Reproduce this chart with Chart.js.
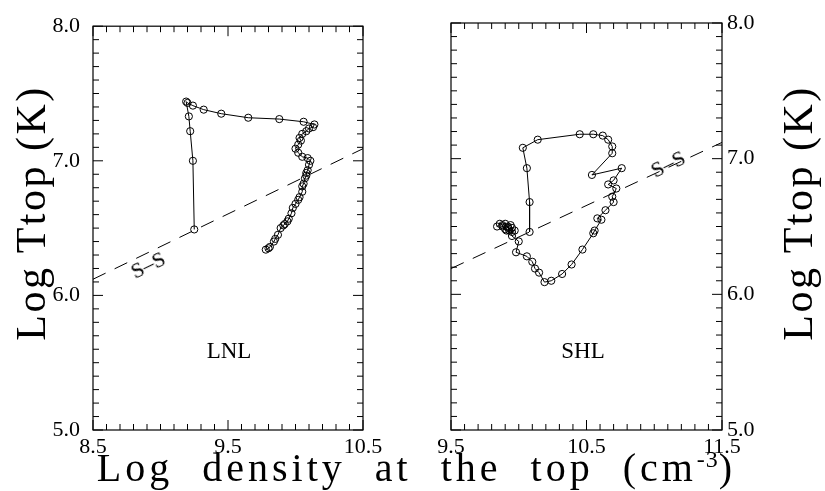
<!DOCTYPE html>
<html>
<head>
<meta charset="utf-8">
<script src="https://cdn.jsdelivr.net/npm/chart.js@4.4.1/dist/chart.umd.min.js"></script>
<style>
  html, body { margin: 0; padding: 0; background: #fff; }
  #wrap { position: relative; width: 825px; height: 491px; overflow: hidden; background: #fff; }
  #wrap canvas { position: absolute; left: 0; top: 0; }
  .txt { position: absolute; font-family: "Liberation Serif", "Times New Roman", serif; color: #000; white-space: nowrap; line-height: 1; }
  #xtitle { left: 0; width: 825px; top: 447px; text-align: center; font-size: 40px; letter-spacing: 4px; word-spacing: 15px; padding-left: 8px; box-sizing: border-box; }
  #xtitle sup { font-size: 24px; letter-spacing: 1px; vertical-align: 14px; }
  .ytitle { font-size: 42px; letter-spacing: 2.5px; width: 300px; text-align: center; transform: translate(-50%, -50%) rotate(-90deg); top: 213px; }
  .panel { font-size: 23px; transform: translate(-50%, -50%); top: 350px; }
  .ss { font-size: 22px; transform: translate(-50%, -50%) rotate(-26deg); }
</style>
</head>
<body>
<div id="wrap">
  <canvas id="lnl" width="825" height="491"></canvas>
  <canvas id="shl" width="825" height="491"></canvas>
  <div class="txt" id="xtitle">Log density at the top (cm<sup>-3</sup>)</div>
  <div class="txt ytitle" style="left:31px">Log Ttop (K)</div>
  <div class="txt ytitle" style="left:798px">Log Ttop (K)</div>
  <div class="txt panel" style="left:229px">LNL</div>
  <div class="txt panel" style="left:583px">SHL</div>
  <div class="txt ss" style="left:148px; top:265px">S–S</div>
  <div class="txt ss" style="left:668px; top:164px">S–S</div>
</div>
<script>
// ---- data ----
// LNL track (log density, log Ttop)
var lnlDensity = [9.78, 9.80, 9.81, 9.84, 9.85, 9.87, 9.89, 9.91, 9.92, 9.94, 9.95, 9.97, 9.98, 10.00,
                  10.02, 10.03, 10.05, 10.05, 10.06, 10.07, 10.08, 10.08, 10.09, 10.10, 10.11, 10.09,
                  10.05, 10.02, 10.00, 10.02, 10.04, 10.03, 10.05, 10.08, 10.10, 10.13, 10.14, 10.06,
                  9.88, 9.65, 9.45, 9.32, 9.24, 9.20, 9.19, 9.21, 9.22, 9.24, 9.25];
var lnlTemp    = [6.34, 6.35, 6.36, 6.40, 6.42, 6.45, 6.50, 6.52, 6.53, 6.55, 6.57, 6.61, 6.65, 6.68,
                  6.71, 6.73, 6.77, 6.81, 6.83, 6.87, 6.89, 6.91, 6.93, 6.97, 7.00, 7.02,
                  7.03, 7.06, 7.09, 7.12, 7.15, 7.17, 7.20, 7.22, 7.24, 7.25, 7.27, 7.29,
                  7.31, 7.32, 7.35, 7.38, 7.41, 7.43, 7.44, 7.33, 7.22, 7.00, 6.49];

// SHL track
var shlDensity = [9.84, 9.86, 9.88, 9.90, 9.92, 9.94, 9.95, 9.91, 9.88, 9.90, 9.93, 9.97, 9.95, 9.92,
                  9.95, 10.00, 9.98, 10.06, 10.10, 10.12, 10.15, 10.19, 10.24, 10.32, 10.39, 10.47,
                  10.55, 10.56, 10.61, 10.58, 10.64, 10.70, 10.69, 10.72, 10.66, 10.70, 10.76, 10.54,
                  10.69, 10.69, 10.66, 10.62, 10.55, 10.45, 10.14, 10.03, 10.06, 10.08, 10.08];
var shlTemp    = [6.50, 6.52, 6.51, 6.52, 6.50, 6.51, 6.49, 6.47, 6.50, 6.48, 6.47, 6.47, 6.46, 6.49,
                  6.43, 6.39, 6.31, 6.28, 6.24, 6.19, 6.16, 6.09, 6.10, 6.15, 6.22, 6.33,
                  6.45, 6.47, 6.55, 6.56, 6.62, 6.68, 6.72, 6.78, 6.81, 6.84, 6.93, 6.88,
                  7.04, 7.09, 7.14, 7.17, 7.18, 7.18, 7.14, 7.08, 6.93, 6.68, 6.46];

// S-S relation (dashed) in each panel
var ssLeftX  = [8.5, 10.5];
var ssLeftY  = [6.12, 7.09];
var ssRightX = [9.5, 11.5];
var ssRightY = [6.19, 7.12];

// axis ranges and labelled ticks
var xRangeLeft  = [8.5, 10.5];
var xRangeRight = [9.5, 11.5];
var yRange      = [5.0, 8.0];
var xTicksLeft  = [8.5, 9.5, 10.5];
var xTicksRight = [9.5, 10.5, 11.5];
var yTicks      = [5.0, 6.0, 7.0, 8.0];

var FONT = "'Liberation Serif', 'Times New Roman', serif";

function pts(xs, ys) {
    var out = [];
    for (var i = 0; i < xs.length; i++) out.push({ x: xs[i], y: ys[i] });
    return out;
}

// frame + inward tick marks on all four sides
var frameTicks = {
    id: 'frameTicks',
    afterDatasetsDraw: function(chart) {
        var a = chart.chartArea, ctx = chart.ctx;
        var xs = chart.scales.x, ys = chart.scales.y;
        ctx.save();
        ctx.strokeStyle = '#000';
        ctx.lineWidth = 1.2;
        ctx.strokeRect(a.left, a.top, a.right - a.left, a.bottom - a.top);
        ctx.lineWidth = 1;
        ctx.beginPath();
        var i, v, p, len;
        for (i = 0; i <= 20; i++) {
            v = xs.min + i * 0.1;
            p = xs.getPixelForValue(v);
            len = (i % 10 === 0) ? 10 : 6;
            ctx.moveTo(p, a.bottom); ctx.lineTo(p, a.bottom - len);
            ctx.moveTo(p, a.top); ctx.lineTo(p, a.top + len);
        }
        for (i = 0; i <= 30; i++) {
            v = ys.min + i * 0.1;
            p = ys.getPixelForValue(v);
            len = (i % 10 === 0) ? 10 : 6;
            ctx.moveTo(a.left, p); ctx.lineTo(a.left + len, p);
            ctx.moveTo(a.right, p); ctx.lineTo(a.right - len, p);
        }
        ctx.stroke();
        ctx.restore();
    }
};

function makePanel(canvasId, track, ss, xRange, xTicks, yPos, pad) {
    return new Chart(document.getElementById(canvasId), {
        type: 'scatter',
        data: {
            datasets: [{
                data: track,
                showLine: true,
                borderColor: '#000',
                borderWidth: 1,
                pointRadius: 3.6,
                pointBorderWidth: 1,
                pointBorderColor: '#000',
                pointBackgroundColor: 'rgba(0,0,0,0)'
            }, {
                data: ss,
                showLine: true,
                borderColor: '#000',
                borderWidth: 1,
                borderDash: [14, 10],
                pointRadius: 0
            }]
        },
        options: {
            responsive: false,
            animation: false,
            devicePixelRatio: 1,
            events: [],
            layout: { padding: pad },
            plugins: { legend: { display: false }, tooltip: { enabled: false } },
            scales: {
                x: {
                    type: 'linear',
                    min: xRange[0], max: xRange[1],
                    afterBuildTicks: function(s) { s.ticks = xTicks.map(function(v) { return { value: v }; }); },
                    afterFit: function(s) { s.height = 40; },
                    grid: { display: false, drawTicks: false },
                    border: { display: false },
                    ticks: { color: '#000', font: { family: FONT, size: 22 }, padding: 4, maxRotation: 0,
                             callback: function(v) { return Number(v).toFixed(1); } }
                },
                y: {
                    type: 'linear',
                    position: yPos,
                    min: yRange[0], max: yRange[1],
                    afterBuildTicks: function(s) { s.ticks = yTicks.map(function(v) { return { value: v }; }); },
                    afterFit: function(s) { s.width = (yPos === 'left') ? 80 : 60; },
                    grid: { display: false, drawTicks: false },
                    border: { display: false },
                    ticks: { color: '#000', font: { family: FONT, size: 22 }, padding: yPos === 'left' ? 13 : 5,
                             callback: function(v) { return Number(v).toFixed(1); } }
                }
            }
        },
        plugins: [frameTicks]
    });
}

makePanel('lnl', pts(lnlDensity, lnlTemp), pts(ssLeftX, ssLeftY), xRangeLeft, xTicksLeft, 'left',
          { left: 13, top: 23, right: 462, bottom: 21 });
makePanel('shl', pts(shlDensity, shlTemp), pts(ssRightX, ssRightY), xRangeRight, xTicksRight, 'right',
          { left: 451, top: 23, right: 43, bottom: 21 });
</script>
</body>
</html>
